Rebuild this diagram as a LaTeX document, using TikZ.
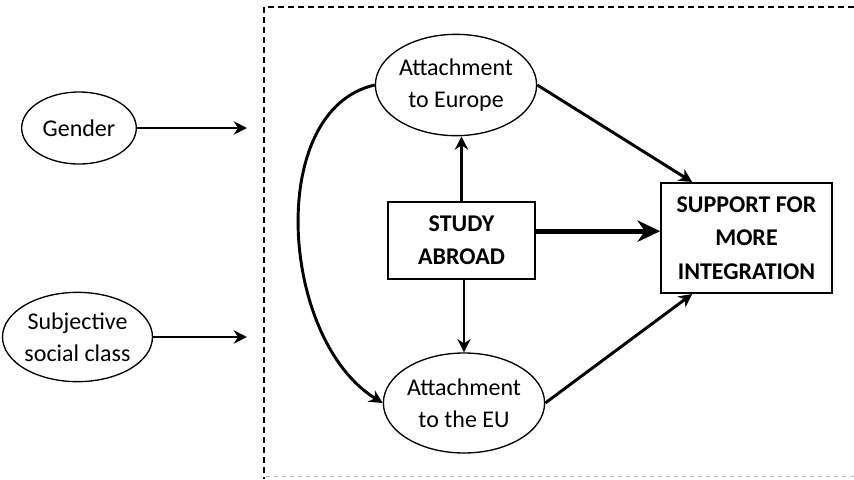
\documentclass[tikz,border=0pt]{standalone}
\usepackage{fontspec}
\setmainfont{Carlito}
\usepackage{tikz}
\usetikzlibrary{arrows.meta,shapes.geometric}

\begin{document}
\begin{tikzpicture}[x=0.75pt,y=-0.75pt,
    var/.style={draw, ellipse, line width=1pt, inner sep=0pt, align=center, font=\fontsize{18}{24}\selectfont},
    box/.style={draw, rectangle, line width=1.5pt, inner sep=0pt, align=center, font=\fontsize{18}{25}\selectfont\bfseries},
    arr/.style={line width=2.2pt, -{Stealth[length=10pt,width=10pt]}}]
    \useasboundingbox (0,0) rectangle (854,479);

    % frame of the model
    \draw[line width=0.8pt, dash pattern=on 4.5pt off 3pt] (854,7) -- (264,7) -- (264,479);
    \draw[gray!50, line width=0.6pt, dash pattern=on 3pt off 3pt] (266,476) -- (854,476);

    % controls
    \node[var, minimum width=86pt, minimum height=54pt] (gender) at (79,128) {Gender};
    \node[var, minimum width=103pt, minimum height=67pt] (class) at (77.5,337) {Subjective\\social class};
    \coordinate (gendend) at (247,128);
    \coordinate (classend) at (247,337);
    \draw[arr] (gender) -- (gendend);
    \draw[arr] (class) -- (classend);

    % model
    \node[var, minimum width=117pt, minimum height=76pt] (europe) at (456,85) {Attachment\\to Europe};
    \node[var, minimum width=117pt, minimum height=75pt] (eu) at (464,403) {Attachment\\to the EU};
    \node[box, minimum width=110pt, minimum height=58pt] (study) at (461.5,240.5) {STUDY\\ABROAD};
    \node[box, minimum width=128pt, minimum height=82.5pt] (support) at (746.5,238) {SUPPORT FOR\\MORE\\INTEGRATION};

    \draw[arr, line width=1.6pt] (study.north) -- (study.north |- europe.south);
    \draw[arr] (study.south -| eu.north) -- (eu.north);
    \draw[line width=3.6pt, -{Stealth[length=17pt,width=16pt]}] ([yshift=7pt]study.east) -- ([yshift=7pt]study.east -| support.west);
    \draw[arr] (europe.east) -- ([xshift=24pt]support.north west);
    \draw[arr] (eu.east) -- ([xshift=24pt]support.south west);
    \draw[arr] (europe.west) .. controls (265,110) and (280,340) .. (eu.west);
\end{tikzpicture}
\end{document}
